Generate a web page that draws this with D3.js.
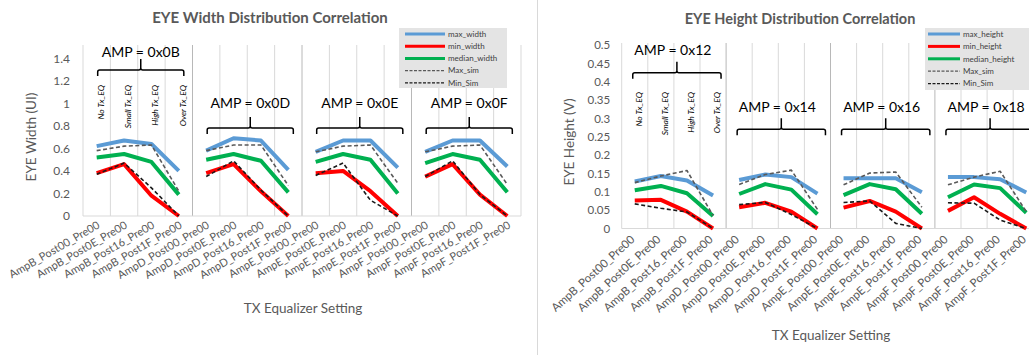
<!DOCTYPE html>
<html><head><meta charset="utf-8">
<script src="https://cdn.jsdelivr.net/npm/d3@7"></script>
<style>
body{margin:0;background:#fff}
svg{display:block}
text{font-family:Lato,"Open Sans",sans-serif}
</style>
</head><body>
<svg id="c" width="1029" height="355"></svg>
<script>
// ---------- data ----------
const categories = ["AmpB_Post00_Pre00","AmpB_Post0E_Pre00","AmpB_Post16_Pre00","AmpB_Post1F_Pre00",
  "AmpD_Post00_Pre00","AmpD_Post0E_Pre00","AmpD_Post16_Pre00","AmpD_Post1F_Pre00",
  "AmpE_Post00_Pre00","AmpE_Post0E_Pre00","AmpE_Post16_Pre00","AmpE_Post1F_Pre00",
  "AmpF_Post00_Pre00","AmpF_Post0E_Pre00","AmpF_Post16_Pre00","AmpF_Post1F_Pre00"];
const eqLabels = ["No Tx_EQ","Small Tx_EQ","High Tx_EQ","Over Tx_EQ"];
const widthAmpLabels = ["AMP = 0x0B","AMP = 0x0D","AMP = 0x0E","AMP = 0x0F"];
const heightAmpLabels = ["AMP = 0x12","AMP = 0x14","AMP = 0x16","AMP = 0x18"];
const widthTicks = [0,0.2,0.4,0.6,0.8,1,1.2,1.4];
const heightTicks = [0,0.05,0.1,0.15,0.2,0.25,0.3,0.35,0.4,0.45,0.5];

const maxWidth    = [0.62,0.67,0.64,0.40, 0.58,0.69,0.67,0.41, 0.57,0.67,0.67,0.43, 0.57,0.67,0.67,0.44];
const minWidth    = [0.38,0.46,0.18,0.00, 0.38,0.46,0.22,0.00, 0.38,0.40,0.22,0.00, 0.35,0.46,0.19,0.00];
const medianWidth = [0.52,0.55,0.48,0.19, 0.50,0.55,0.49,0.21, 0.48,0.55,0.50,0.20, 0.47,0.55,0.50,0.21];
const maxSimWidth = [0.58,0.62,0.63,0.22, 0.58,0.63,0.63,0.27, 0.57,0.62,0.63,0.29, 0.57,0.62,0.63,0.28];
const minSimWidth = [0.37,0.47,0.25,0.00, 0.35,0.49,0.23,0.00, 0.36,0.47,0.14,0.00, 0.35,0.49,0.19,0.00];

const maxHeight    = [0.128,0.143,0.131,0.090, 0.132,0.147,0.140,0.095, 0.137,0.137,0.137,0.099, 0.140,0.140,0.134,0.098];
const minHeight    = [0.076,0.078,0.046,0.000, 0.058,0.070,0.046,0.000, 0.057,0.075,0.046,0.000, 0.048,0.085,0.040,0.000];
const medianHeight = [0.104,0.116,0.096,0.034, 0.094,0.121,0.106,0.039, 0.091,0.121,0.107,0.040, 0.085,0.120,0.110,0.043];
const maxSimHeight = [0.125,0.143,0.158,0.035, 0.120,0.147,0.159,0.052, 0.119,0.151,0.154,0.058, 0.119,0.140,0.156,0.046];
const minSimHeight = [0.067,0.055,0.045,0.000, 0.065,0.071,0.038,0.000, 0.071,0.075,0.014,0.000, 0.070,0.069,0.023,0.000];

const widthLegend  = ["max_width","min_width","median_width","Max_sim","Min_Sim"];
const heightLegend = ["max_height","min_height","median_height","Max_sim","Min_Sim"];

// ---------- drawing ----------
const svg = d3.select("#c");
svg.append("rect").attr("width",1029).attr("height",355).attr("fill","#fff");

const styles = [
  {color:"#5b9bd5", w:4, dash:null},
  {color:"#ff0000", w:4, dash:null},
  {color:"#00b050", w:4, dash:null},
  {color:"#595959", w:1.6, dash:"4,2.5"},
  {color:"#1a1a1a", w:1.6, dash:"4,2.5"}
];

function drawChart(cfg){
  const g = svg.append("g");
  const x = d3.scaleBand().domain(d3.range(categories.length)).range([cfg.x0, cfg.x1]).padding(0);
  const bw = x.bandwidth();
  const cx = i => x(i) + bw/2;
  const y = d3.scaleLinear().domain(cfg.domain).range([cfg.yBottom, cfg.yTop]);

  const edges = d3.range(categories.length + 1);
  g.selectAll("line.grid").data(edges).join("line")
    .attr("x1", i => cfg.x0 + i*bw).attr("x2", i => cfg.x0 + i*bw)
    .attr("y1", cfg.yTop - 2).attr("y2", cfg.yBottom)
    .attr("stroke", i => (i%4===0 && i>0 && i<16) ? "#b8b8b8" : "#d9d9d9")
    .attr("stroke-width", 1);
  g.append("line").attr("x1", cfg.x0).attr("x2", cfg.x1)
    .attr("y1", y(0)).attr("y2", y(0)).attr("stroke","#d9d9d9");

  const ya = g.append("g").attr("transform",`translate(${cfg.x0},0)`)
    .call(d3.axisLeft(y).tickValues(cfg.ticks).tickSize(0).tickPadding(cfg.tickPad).tickFormat(d => String(d)));
  ya.select(".domain").remove();
  ya.selectAll("text").attr("fill","#595959").style("font-size", cfg.tickFont+"px")
    .style("font-family","Lato, 'Open Sans', sans-serif");

  g.selectAll("text.xl").data(categories).join("text")
    .attr("text-anchor","end")
    .attr("transform",(d,i)=>`translate(${cx(i)+cfg.xlDx},${y(0)+cfg.xlDy}) rotate(${cfg.xlAngle})`)
    .attr("dy","0.35em")
    .attr("fill","#595959").style("font-size", cfg.xlFont+"px").text(d=>d);

  const line = d3.line().x(d => cx(d.i)).y(d => y(d.v));
  cfg.series.forEach((s, k) => {
    const st = styles[k];
    for (let gi = 0; gi < 4; gi++){
      const pts = d3.range(gi*4, gi*4+4).map(i => ({i, v:s[i]}));
      g.append("path").attr("d", line(pts)).attr("fill","none")
        .attr("stroke", st.color).attr("stroke-width", st.w)
        .attr("stroke-dasharray", st.dash).attr("stroke-linejoin","round");
    }
  });

  g.append("text").attr("x", cfg.titleX).attr("y", cfg.titleY).attr("text-anchor","middle")
    .attr("fill","#595959").style("font-size", cfg.titleFont+"px").style("font-weight","bold").text(cfg.title);
  g.append("text").attr("transform",`translate(${cfg.yTitleX},${cfg.yTitleY}) rotate(-90)`)
    .attr("text-anchor","middle").attr("fill","#595959").style("font-size","13.5px").text(cfg.yTitle);
  g.append("text").attr("x", cfg.xTitleX).attr("y", cfg.xTitleY).attr("text-anchor","middle")
    .attr("fill","#595959").style("font-size","13.5px").text("TX Equalizer Setting");

  cfg.amp.forEach((lab, gi) => {
    const first = gi*4, last = gi*4+3;
    const bx0 = cx(first) + cfg.brL, bx1 = cx(last) + cfg.brR;
    const by = gi === 0 ? cfg.br0Y : cfg.brY;
    const ty = gi === 0 ? cfg.amp0Y : cfg.ampY;
    const bm = (bx0 + bx1)/2;
    const p = `M${bx0},${by+6} L${bx0},${by+2} Q${bx0},${by} ${bx0+2},${by} L${bm-2},${by} Q${bm},${by} ${bm},${by-2} L${bm},${by-11} M${bm},${by-2} Q${bm},${by} ${bm+2},${by} L${bx1-2},${by} Q${bx1},${by} ${bx1},${by+2} L${bx1},${by+6}`;
    g.append("path").attr("d", p).attr("fill","none").attr("stroke","#000").attr("stroke-width",1.5);
    g.append("text").attr("x", bm + cfg.ampDx).attr("y", ty).attr("dy","0.35em").attr("text-anchor","middle")
      .attr("fill","#000").style("font-size", cfg.ampFont+"px").text(lab);
  });

  g.selectAll("text.eq").data(eqLabels).join("text")
    .attr("transform",(d,i)=>`translate(${cx(i)+cfg.eqDx},${cfg.eqTop}) rotate(-90)`)
    .attr("text-anchor","end").attr("dy","0.35em")
    .attr("fill","#000").style("font-size","8.5px").style("font-style","italic").text(d=>d);

  const L = cfg.legend;
  g.append("rect").attr("x",L.x).attr("y",L.y).attr("width",L.w).attr("height",L.h).attr("fill","#e4e4e4");
  cfg.legendLabels.forEach((lab,k)=>{
    const st = styles[k];
    const ly = L.y + L.first + k*L.step;
    g.append("line").attr("x1",L.x+L.lx0).attr("x2",L.x+L.lx1).attr("y1",ly).attr("y2",ly)
      .attr("stroke",st.color).attr("stroke-width", k<3 ? 3 : 1.2).attr("stroke-dasharray", st.dash ? "3,1.5" : null);
    g.append("text").attr("x",L.x+L.tx).attr("y",ly).attr("dy","0.35em")
      .attr("fill","#404040").style("font-size","8px").text(lab);
  });
}

drawChart({
  x0:83, x1:521, yTop:47, yBottom:216, domain:[0,1.5], ticks:widthTicks, tickPad:13, tickFont:12,
  xlDx:2, xlDy:8, xlAngle:-30, xlFont:11,
  series:[maxWidth,minWidth,medianWidth,maxSimWidth,minSimWidth],
  title:"EYE Width Distribution Correlation", titleX:270, titleY:23, titleFont:15,
  yTitle:"EYE Width (UI)", yTitleX:36, yTitleY:137, xTitleX:303, xTitleY:313,
  amp:widthAmpLabels, ampDx:0, brL:1, brR:5, br0Y:70, brY:128, amp0Y:52, ampY:103, ampFont:14,
  eqDx:4, eqTop:85,
  legend:{x:399,y:28,w:108,h:60,first:6,step:12.2,lx0:6,lx1:46,tx:49},
  legendLabels:widthLegend
});

svg.append("line").attr("x1",537.5).attr("x2",537.5).attr("y1",0).attr("y2",355).attr("stroke","#d9d9d9");

drawChart({
  x0:621.7, x1:1039.3, yTop:45, yBottom:228.5, domain:[0,0.5], ticks:heightTicks, tickPad:11.5, tickFont:11.5,
  xlDx:-2, xlDy:9, xlAngle:-42, xlFont:11.5,
  series:[maxHeight,minHeight,medianHeight,maxSimHeight,minSimHeight],
  title:"EYE Height Distribution Correlation", titleX:800, titleY:24, titleFont:14.5,
  yTitle:"EYE Height (V)", yTitleX:574, yTitleY:142, xTitleX:831, xTitleY:340,
  amp:heightAmpLabels, ampDx:-4, brL:-2, brR:8, br0Y:72.7, brY:129.3, amp0Y:50, ampY:107, ampFont:14,
  eqDx:4, eqTop:92,
  legend:{x:925,y:28,w:105,h:62,first:6,step:12.4,lx0:3,lx1:35,tx:38},
  legendLabels:heightLegend
});
</script>
</body></html>
